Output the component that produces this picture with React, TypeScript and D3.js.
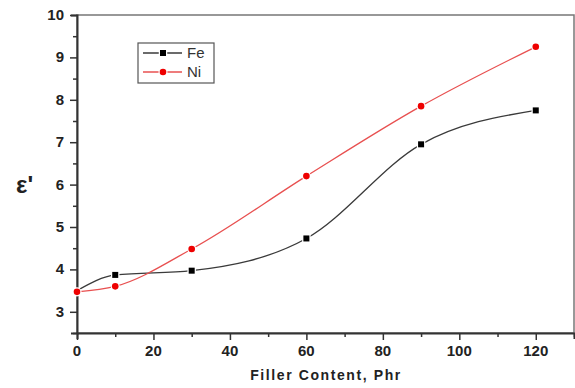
import { useEffect, useRef } from "react";
import * as d3 from "d3";

const filler = [0, 10, 30, 60, 90, 120];
const feValues = [3.5, 3.87, 3.97, 4.73, 6.95, 7.75];
const niValues = [3.47, 3.6, 4.48, 6.2, 7.85, 9.25];
const xTicks = [0, 20, 40, 60, 80, 100, 120];
const yTicks = [3, 4, 5, 6, 7, 8, 9, 10];

export default function App() {
    const svgRef = useRef<SVGSVGElement | null>(null);

    useEffect(() => {
        if (!svgRef.current) return;
        const root = d3.select(svgRef.current);
        root.selectAll("*").remove();

        const width = 575;
        const height = 388;
        const margin = { top: 15, right: 1, bottom: 55, left: 77 };

        const x = d3.scaleLinear().domain([0, 130]).range([margin.left, width - margin.right]);
        const y = d3.scaleLinear().domain([2.5, 10]).range([height - margin.bottom, margin.top]);

        const font = "'Liberation Sans', Arial, sans-serif";
        const axisColor = "#333";

        // frame top/right
        root.append("rect")
            .attr("x", x(0))
            .attr("y", y(10))
            .attr("width", x(130) - x(0))
            .attr("height", y(2.5) - y(10))
            .attr("fill", "none")
            .attr("stroke", "#777")
            .attr("stroke-width", 1.5);

        // X axis
        const xAxis = root.append("g").attr("transform", `translate(0,${y(2.5)})`);
        xAxis.call(
            d3.axisBottom(x).tickValues(d3.range(0, 131, 10)).tickSize(6).tickFormat(() => "")
        );
        xAxis.selectAll(".tick line")
            .attr("y2", (d: any) => (d % 20 === 0 ? 7 : 4));
        xAxis.select(".domain").attr("stroke-width", 2);
        xAxis.attr("color", axisColor);
        xAxis.selectAll(".tick line").attr("stroke-width", 1.5);

        root.append("g")
            .selectAll("text")
            .data(xTicks)
            .enter()
            .append("text")
            .attr("x", (d) => x(d))
            .attr("y", y(2.5) + 23)
            .attr("text-anchor", "middle")
            .attr("font-family", font)
            .attr("font-weight", "bold")
            .attr("font-size", 15)
            .attr("fill", "#222")
            .text((d) => d);

        // Y axis
        const yAxis = root.append("g").attr("transform", `translate(${x(0)},0)`);
        yAxis.call(
            d3.axisLeft(y).tickValues(d3.range(2.5, 10.01, 0.5)).tickSize(6).tickFormat(() => "")
        );
        yAxis.selectAll(".tick line")
            .attr("x2", (d: any) => (Math.abs(d - Math.round(d)) < 0.01 ? -7 : -4));
        yAxis.select(".domain").attr("stroke-width", 2);
        yAxis.attr("color", axisColor);
        yAxis.selectAll(".tick line").attr("stroke-width", 1.5);

        root.append("g")
            .selectAll("text")
            .data(yTicks)
            .enter()
            .append("text")
            .attr("x", x(0) - 13)
            .attr("y", (d) => y(d) + 5)
            .attr("text-anchor", "end")
            .attr("font-family", font)
            .attr("font-weight", "bold")
            .attr("font-size", 15)
            .attr("fill", "#222")
            .text((d) => d);

        // axis titles
        root.append("text")
            .attr("x", 326)
            .attr("y", 380)
            .attr("text-anchor", "middle")
            .attr("font-family", font)
            .attr("font-weight", "bold")
            .attr("font-size", 14)
            .attr("letter-spacing", 1.6)
            .attr("fill", "#222")
            .text("Filler Content, Phr");

        root.append("text")
            .attr("x", 16)
            .attr("y", 193)
            .attr("font-family", font)
            .attr("font-weight", "bold")
            .attr("font-size", 24)
            .attr("fill", "#222")
            .text("ε'");

        // series
        const series = [
            { name: "Fe", values: feValues, color: "#3a3a3a", marker: "square", mcolor: "#000" },
            { name: "Ni", values: niValues, color: "#e85050", marker: "circle", mcolor: "#ee0000" },
        ];

        const line = d3
            .line<number>()
            .x((_, i) => x(filler[i]))
            .y((d) => y(d))
            .curve(d3.curveMonotoneX);

        series.forEach((s) => {
            root.append("path")
                .attr("d", line(s.values))
                .attr("fill", "none")
                .attr("stroke", s.color)
                .attr("stroke-width", 1.3);
        });

        const drawMarker = (g: any, type: string, cx: number, cy: number, color: string) => {
            if (type === "square") {
                g.append("rect")
                    .attr("x", cx - 3)
                    .attr("y", cy - 3)
                    .attr("width", 6)
                    .attr("height", 6)
                    .attr("fill", color)
                    .attr("stroke", "#fff")
                    .attr("stroke-width", 2.5)
                    .attr("paint-order", "stroke");
            } else {
                g.append("circle")
                    .attr("cx", cx)
                    .attr("cy", cy)
                    .attr("r", 3.3)
                    .attr("fill", color)
                    .attr("stroke", "#fff")
                    .attr("stroke-width", 2.5)
                    .attr("paint-order", "stroke");
            }
        };

        series.forEach((s) => {
            const g = root.append("g");
            s.values.forEach((v, i) => {
                if (i === 0) return;
                drawMarker(g, s.marker, x(filler[i]), y(v), s.mcolor);
            });
        });
        // Ni marker at 0 sits over the shared start point
        drawMarker(root, "circle", x(filler[0]), y(niValues[0]), "#ee0000");

        // legend
        const legend = root.append("g");
        legend.append("rect")
            .attr("x", 138)
            .attr("y", 43)
            .attr("width", 76)
            .attr("height", 40)
            .attr("fill", "#fff")
            .attr("stroke", "#555")
            .attr("stroke-width", 1.2);
        series.forEach((s, i) => {
            const ly = 53 + i * 19;
            legend.append("line")
                .attr("x1", 143)
                .attr("x2", 182)
                .attr("y1", ly)
                .attr("y2", ly)
                .attr("stroke", s.color)
                .attr("stroke-width", 1.3);
            drawMarker(legend, s.marker, 163, ly, s.mcolor);
            legend.append("text")
                .attr("x", 187)
                .attr("y", ly + 5)
                .attr("font-family", font)
                .attr("font-size", 15)
                .attr("fill", "#333")
                .text(s.name);
        });
    }, []);

    return (
        <svg
            ref={svgRef}
            width={575}
            height={388}
            style={{ position: "absolute", left: 0, top: 0, background: "#fff" }}
        />
    );
}
